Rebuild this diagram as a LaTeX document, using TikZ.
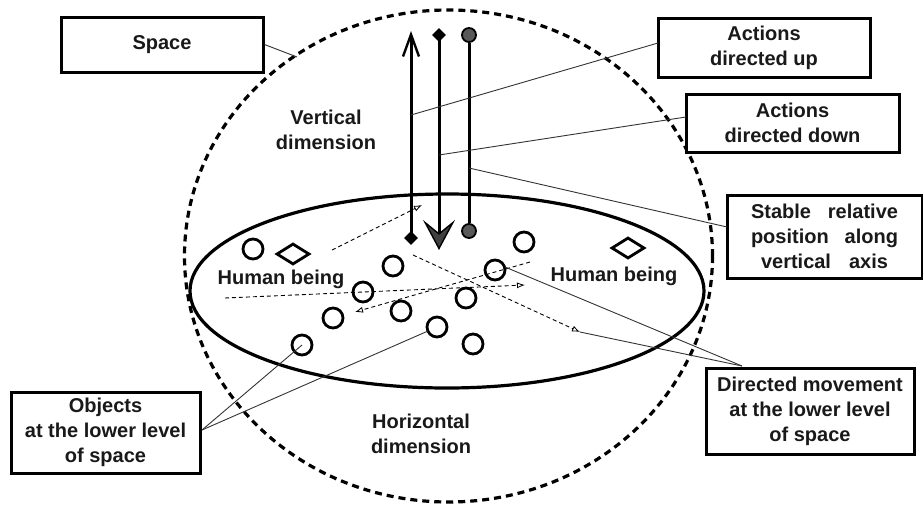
\documentclass[tikz,border=0pt]{standalone}
\usepackage{fontspec}
\setmainfont{Liberation Sans}
\usetikzlibrary{arrows.meta,shapes.geometric}
\begin{document}
\begin{tikzpicture}[x=1pt,y=-1pt,
  lbl/.style={font=\fontsize{20}{25}\selectfont\bfseries, align=center, text=black!90},
  box/.style={draw, line width=3pt, lbl, inner sep=0pt, fill=white},
  leader/.style={draw=black!80, line width=0.9pt},
  obj/.style={circle, draw, line width=2.8pt, minimum size=20pt, inner sep=0pt},
  hum/.style={diamond, draw, line width=2.8pt, minimum width=33pt, minimum height=21pt, inner sep=0pt},
  mv/.style={dash pattern=on 4pt off 3pt, line width=0.9pt, -{Latex[open,length=8pt,width=6pt,line width=0.8pt]}},
  axis/.style={line width=3pt},
  tipdiam/.style={diamond, fill=black, draw=black, minimum size=13pt, inner sep=0pt},
  tipcirc/.style={circle, fill=black!65, draw=black, line width=1.8pt, minimum size=14pt, inner sep=0pt},
]
\useasboundingbox (0,0) rectangle (923,506);

% space and lower level
\draw[line width=3.2pt, dash pattern=on 7pt off 5pt] (448.5,256) ellipse [x radius=264, y radius=246];
\draw[line width=3.2pt] (447,291) ellipse [x radius=257, y radius=97];

% labelled boxes
\node[box, minimum width=202pt, minimum height=55pt] (space) at (162,44.5) {Space};
\node[box, minimum width=212pt, minimum height=59pt] (up) at (764,47.5) {Actions\\directed up};
\node[box, minimum width=213pt, minimum height=58pt] (down) at (792.5,123) {Actions\\directed down};
\node[box, minimum width=195pt, minimum height=83pt] (stable) at (824.5,236.5)
  {\makebox[147pt][s]{Stable relative}\\\makebox[147pt][s]{position along}\\\makebox[127pt][s]{vertical axis}};
\node[box, minimum width=189pt, minimum height=81pt] (objects) at (105.5,432.5) {Objects\\at the lower level\\of space};
\node[box, minimum width=208pt, minimum height=86pt] (directed) at (810,411) {Directed movement\\at the lower level\\of space};

% free texts
\node[lbl] (vert) at (326,130) {Vertical\\dimension};
\node[lbl] (horiz) at (421,434) {Horizontal\\dimension};
\node[lbl] (hb1) at (281,279) {Human being};
\node[lbl] (hb2) at (614,276) {Human being};

% human beings
\node[hum] (h1) at (293,254) {};
\node[hum] (h2) at (628,248) {};

% objects
\foreach \n/\x/\y in {c1/253/249, c2/393/266, c3/363/292, c4/333/318, c5/401/311, c6/302/345,
                      c7/437/327, c8/466/298, c9/495/270, c10/473/344, c11/524/242}
  \node[obj] (\n) at (\x,\y) {};

% vertical axis elements
\node[tipdiam] (uBot) at (411,238) {};
\coordinate (uTop) at (411,31);
\node[tipdiam] (dTop) at (439,35) {};
\coordinate (dTip) at (439,250);
\node[tipcirc] (sTop) at (469,35) {};
\node[tipcirc] (sBot) at (469,231) {};
\draw[axis, -{Straight Barb[length=22pt,width=16pt,line width=2.4pt]}] (uBot.center) -- (uTop);
\draw[axis, -{Stealth[length=30pt,width=32pt,inset=13pt,fill=black!75,line width=1.4pt]}] (dTop.center) -- (dTip);
\draw[axis] (sTop) -- (sBot);
\node[tipdiam] at (uBot) {};
\node[tipdiam] at (dTop) {};

% leaders
\coordinate (spaceEnd) at (297,57);
\coordinate (upEnd) at (411,115);
\coordinate (downEnd) at (439,155);
\coordinate (stableEnd) at (469,168);
\coordinate (upStart) at (658,43);
\coordinate (downStart) at (686,117);
\coordinate (stableStart) at (727,227);
\coordinate (objStart) at (202,430);
\coordinate (dirStart) at (742,366);
\coordinate (c7edge) at (428,331);
\coordinate (c9edge) at (505,267);
\draw[leader] (space.east) -- (spaceEnd);
\draw[leader] (upStart) -- (upEnd);
\draw[leader] (downStart) -- (downEnd);
\draw[leader] (stableStart) -- (stableEnd);
\draw[leader] (objStart) -- (c6.center);
\draw[leader] (objStart) -- (c7edge);

% movement arrows
\coordinate (m1s) at (332,250); \coordinate (m1e) at (422,205);
\coordinate (m2s) at (225,298); \coordinate (m2e) at (525,285);
\coordinate (m3s) at (530,262); \coordinate (m3e) at (355,312);
\coordinate (m4s) at (413,255); \coordinate (m4e) at (580,332);
\draw[mv] (m1s) -- (m1e);
\draw[mv] (m2s) -- (m2e);
\draw[mv] (m3s) -- (m3e);
\draw[mv] (m4s) -- (m4e);
\draw[leader] (dirStart) -- (m4e);
\draw[leader] (dirStart) -- (c9edge);
\end{tikzpicture}
\end{document}
